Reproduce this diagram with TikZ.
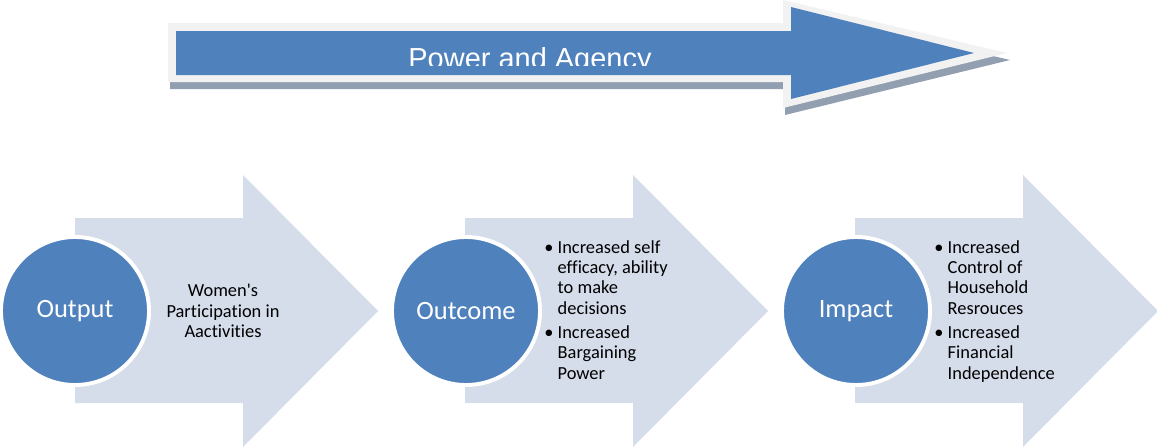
\documentclass[tikz,border=0pt]{standalone}
\usepackage{fontspec}
\setmainfont[Ligatures=NoCommon]{Carlito}
\newfontfamily\bannerfont{Liberation Sans}
\usetikzlibrary{positioning}
\definecolor{StageBlue}{HTML}{4F81BD}
\definecolor{ChevronFill}{HTML}{D5DCEA}
\definecolor{BannerEdge}{HTML}{F2F2F2}
\definecolor{BannerShadow}{HTML}{929FB0}

\tikzset{
  stage/.style={circle, fill=StageBlue, draw=white, line width=2.8pt,
    minimum size=3.7cm, inner sep=0pt, text=white,
    font=\fontsize{18.8}{22}\selectfont},
  chevron/.style={fill=ChevronFill},
  bodytext/.style={inner sep=0pt, font=\fontsize{13.1}{14.5}\selectfont},
}

\begin{document}
\begin{tikzpicture}[x=0.025cm, y=-0.025cm]
    \useasboundingbox (0,0) rectangle (1157,447);

    % Banner arrow: shadow, light edge, blue face
    \fill[BannerShadow] (170,30) -- (785,30) -- (785,7) -- (1010,60) -- (785,115) -- (785,89) -- (170,89) -- cycle;
    \fill[BannerEdge] (168,23) -- (783,23) -- (783,0) -- (1007,53) -- (783,108) -- (783,82) -- (168,82) -- cycle;
    \fill[StageBlue] (176,31) -- (791,31) -- (791,7) -- (974,53) -- (791,99) -- (791,75) -- (176,75) -- cycle;
    \begin{scope}
        \clip (176,31) rectangle (791,65);
        \node[anchor=base, inner sep=0pt, text=white, font=\bannerfont\fontsize{20.6}{24}\selectfont]
            (banner) at (530,68) {Power and Agency};
    \end{scope}

    % Draw chevrons
    \foreach \dx in {0,390,780} {
        \fill[chevron] (75+\dx,218) -- (243+\dx,218) -- (243+\dx,175) -- (378+\dx,311)
            -- (243+\dx,447) -- (243+\dx,403) -- (75+\dx,403) -- cycle;
    }

    % Stage circles
    \node[stage] (output) at (75,311) {Output};
    \node[stage] (outcome) at (466,311) {Outcome};
    \node[stage] (impact) at (856,311) {Impact};

    % Texts in the chevrons
    \node[bodytext, align=center] (participation) at (223,311)
        {Women\textquotesingle s\\Participation in\\Aactivities};
    \node[bodytext, anchor=west] (outcomelist) at (544,312) {%
        \begin{tabular}{@{}l@{\hspace{3pt}}l@{}}
            \textbullet & Increased self\\
            & efficacy, ability\\
            & to make\\
            & decisions\\[2.5pt]
            \textbullet & Increased\\
            & Bargaining\\
            & Power
        \end{tabular}};
    \node[bodytext, anchor=west] (impactlist) at (934,312) {%
        \begin{tabular}{@{}l@{\hspace{3pt}}l@{}}
            \textbullet & Increased\\
            & Control of\\
            & Household\\
            & Resrouces\\[2.5pt]
            \textbullet & Increased\\
            & Financial\\
            & Independence
        \end{tabular}};
\end{tikzpicture}
\end{document}
